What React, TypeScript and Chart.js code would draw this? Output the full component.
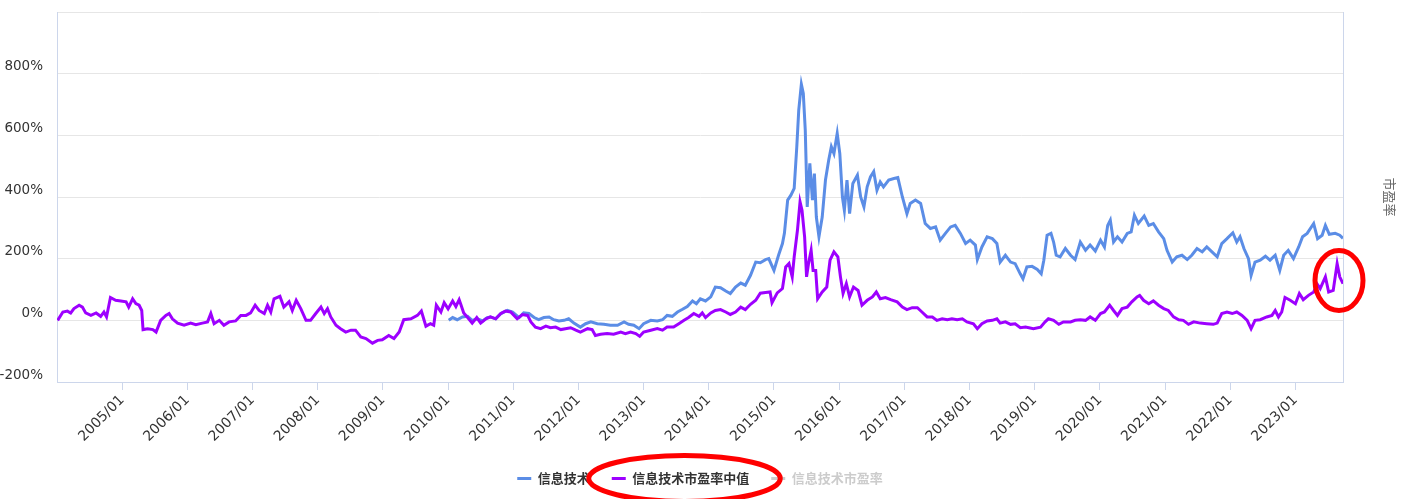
import React, { useEffect, useRef } from "react";
import { Chart, registerables } from "chart.js";

Chart.register(...registerables);

// Time axis expressed as decimal years
const tickYears = [2005, 2006, 2007, 2008, 2009, 2010, 2011, 2012, 2013, 2014, 2015, 2016, 2017, 2018, 2019, 2020, 2021, 2022, 2023];

const medianDates = [
  2004.01, 2004.09, 2004.16, 2004.21, 2004.26, 2004.34, 2004.39, 2004.44, 2004.52, 2004.60, 2004.67, 2004.72, 2004.76, 2004.82, 2004.90, 2004.98,
  2005.06, 2005.10, 2005.16, 2005.21, 2005.26, 2005.30, 2005.32, 2005.39, 2005.47, 2005.52, 2005.59, 2005.67, 2005.72, 2005.77, 2005.85, 2005.95,
  2006.05, 2006.13, 2006.23, 2006.31, 2006.36, 2006.41, 2006.49, 2006.56, 2006.64, 2006.74, 2006.82, 2006.90, 2006.97,
  2007.04, 2007.10, 2007.18, 2007.23, 2007.28, 2007.33, 2007.42, 2007.48, 2007.56, 2007.61, 2007.67, 2007.74, 2007.82, 2007.89, 2007.97,
  2008.05, 2008.10, 2008.15, 2008.20, 2008.28, 2008.35, 2008.43, 2008.51, 2008.58, 2008.66, 2008.74, 2008.84, 2008.92, 2008.99,
  2009.09, 2009.17, 2009.25, 2009.32, 2009.43, 2009.53, 2009.59, 2009.66, 2009.73, 2009.78, 2009.82, 2009.89, 2009.94,
  2010.00, 2010.07, 2010.12, 2010.17, 2010.20, 2010.24, 2010.30, 2010.37, 2010.44, 2010.50, 2010.58, 2010.65, 2010.73, 2010.81, 2010.88, 2010.96,
  2011.06, 2011.14, 2011.22, 2011.27, 2011.34, 2011.42, 2011.50, 2011.57, 2011.65, 2011.73, 2011.80, 2011.88, 2011.96,
  2012.03, 2012.14, 2012.21, 2012.26, 2012.34, 2012.44, 2012.54, 2012.65, 2012.72, 2012.80, 2012.88, 2012.94,
  2013.00, 2013.11, 2013.21, 2013.29, 2013.36, 2013.46, 2013.54, 2013.62, 2013.69, 2013.77, 2013.85, 2013.90, 2013.95,
  2014.03, 2014.10, 2014.18, 2014.26, 2014.33, 2014.41, 2014.49, 2014.56, 2014.64, 2014.72, 2014.79, 2014.87, 2014.94, 2014.97,
  2015.05, 2015.13, 2015.18, 2015.23, 2015.28, 2015.31, 2015.36, 2015.40, 2015.43, 2015.47, 2015.50, 2015.53, 2015.57, 2015.60, 2015.64, 2015.67,
  2015.74, 2015.81, 2015.86, 2015.92, 2015.98,
  2016.02, 2016.06, 2016.11, 2016.16, 2016.22, 2016.29, 2016.35, 2016.43, 2016.51, 2016.57, 2016.63, 2016.71, 2016.79, 2016.89, 2016.97,
  2017.04, 2017.12, 2017.20, 2017.27, 2017.35, 2017.43, 2017.50, 2017.58, 2017.66, 2017.73, 2017.81, 2017.89, 2017.96,
  2018.06, 2018.12, 2018.19, 2018.27, 2018.35, 2018.42, 2018.47, 2018.55, 2018.63, 2018.70, 2018.78, 2018.86, 2018.98,
  2019.09, 2019.16, 2019.21, 2019.29, 2019.37, 2019.44, 2019.55, 2019.62, 2019.70, 2019.78, 2019.85, 2019.93,
  2020.01, 2020.07, 2020.15, 2020.21, 2020.27, 2020.34, 2020.42, 2020.49, 2020.57, 2020.61, 2020.67, 2020.75, 2020.82, 2020.90, 2020.98,
  2021.05, 2021.13, 2021.21, 2021.28, 2021.36, 2021.44, 2021.54, 2021.64, 2021.74, 2021.80, 2021.87, 2021.95,
  2022.03, 2022.10, 2022.18, 2022.26, 2022.32, 2022.38, 2022.46, 2022.56, 2022.64, 2022.69, 2022.74, 2022.79, 2022.84, 2022.92,
  2023.00, 2023.06, 2023.12, 2023.20, 2023.28, 2023.33, 2023.38, 2023.46, 2023.51, 2023.58, 2023.64, 2023.68, 2023.73,
];

const medianValues = [
  0, 27, 30, 24, 38, 49, 43, 24, 16, 24, 13, 27, 11, 74, 65, 63,
  60, 43, 70, 54, 49, 32, -30, -27, -30, -38, 0, 16, 22, 5, -9, -16,
  -9, -14, -9, -5, 22, -11, 0, -16, -5, -2, 16, 16, 24,
  49, 32, 22, 49, 27, 70, 78, 43, 60, 32, 65, 38, 0, 0, 22,
  43, 22, 38, 11, -16, -27, -38, -32, -32, -54, -59, -74, -65, -63,
  -49, -59, -38, 2, 5, 16, 30, -19, -11, -16, 49, 27, 57,
  37, 63, 45, 67, 49, 24, 9, -9, 9, -9, 5, 11, 5, 22, 30, 27,
  5, 19, 16, -5, -22, -27, -19, -24, -22, -30, -27, -24, -32,
  -38, -27, -30, -49, -45, -43, -45, -38, -43, -38, -43, -52,
  -38, -32, -27, -32, -22, -22, -11, 0, 9, 22, 13, 24, 9,
  24, 32, 35, 27, 19, 27, 43, 35, 52, 65, 88, 90, 92, 57,
  89, 103, 173, 184, 141, 206, 292, 384, 357, 271, 141, 184, 227, 162, 162, 70,
  92, 108, 195, 222, 206,
  141, 87, 119, 76, 108, 97, 49, 65, 76, 92, 70, 74, 67, 60, 43,
  35, 41, 41, 27, 11, 11, 0, 5, 2, 5, 2, 5, -5,
  -11, -27, -11, -2, 0, 5, -9, -5, -13, -11, -24, -22, -27,
  -22, -5, 5, 0, -13, -5, -5, 0, 2, 0, 11, 0,
  22, 27, 49, 32, 16, 38, 43, 60, 76, 81, 65, 54, 63, 49, 38,
  32, 11, 2, 0, -13, -5, -9, -11, -13, -9, 22, 27,
  22, 27, 16, 0, -27, 0, 2, 11, 16, 32, 11, 27, 74, 65,
  54, 87, 67, 81, 92, 119, 103, 141, 92, 97, 184, 141, 119,
];

const itDates = [
  2010.01, 2010.07, 2010.14, 2010.22, 2010.30, 2010.37, 2010.45, 2010.53, 2010.60, 2010.65, 2010.73, 2010.81, 2010.91, 2010.99,
  2011.09, 2011.16, 2011.24, 2011.32, 2011.39, 2011.47, 2011.55, 2011.62, 2011.70, 2011.78, 2011.85, 2011.93,
  2012.03, 2012.11, 2012.19, 2012.29, 2012.39, 2012.49, 2012.60, 2012.70, 2012.77, 2012.85, 2012.93,
  2013.00, 2013.11, 2013.21, 2013.29, 2013.36, 2013.44, 2013.52, 2013.59, 2013.67, 2013.75, 2013.81, 2013.87, 2013.95,
  2014.03, 2014.10, 2014.18, 2014.26, 2014.33, 2014.41, 2014.49, 2014.56, 2014.64, 2014.72, 2014.79, 2014.87, 2014.92,
  2015.00, 2015.07, 2015.13, 2015.16, 2015.21, 2015.26, 2015.31, 2015.35, 2015.38, 2015.42, 2015.45, 2015.48, 2015.51, 2015.55,
  2015.59, 2015.62, 2015.65, 2015.69, 2015.74, 2015.79, 2015.84, 2015.88, 2015.92, 2015.97,
  2016.01, 2016.05, 2016.08, 2016.12, 2016.16, 2016.21, 2016.28, 2016.33, 2016.38, 2016.43, 2016.48, 2016.53, 2016.58, 2016.63,
  2016.68, 2016.76, 2016.84, 2016.90, 2016.97,
  2017.04, 2017.09, 2017.17, 2017.25, 2017.32, 2017.40, 2017.48, 2017.55, 2017.63, 2017.71, 2017.78, 2017.86, 2017.94,
  2018.01, 2018.09, 2018.12, 2018.19, 2018.27, 2018.35, 2018.42, 2018.47, 2018.55, 2018.63, 2018.70, 2018.78, 2018.82, 2018.88, 2018.96,
  2019.04, 2019.10, 2019.14, 2019.19, 2019.25, 2019.29, 2019.33, 2019.39, 2019.47, 2019.55, 2019.62, 2019.70, 2019.78, 2019.85, 2019.93,
  2020.01, 2020.07, 2020.12, 2020.16, 2020.21, 2020.27, 2020.34, 2020.42, 2020.48, 2020.53, 2020.59, 2020.68, 2020.75, 2020.82, 2020.90, 2020.98,
  2021.03, 2021.11, 2021.18, 2021.26, 2021.34, 2021.41, 2021.49, 2021.57, 2021.64, 2021.72, 2021.80, 2021.87, 2021.95,
  2022.04, 2022.10, 2022.15, 2022.21, 2022.28, 2022.32, 2022.38, 2022.46, 2022.54, 2022.61, 2022.69, 2022.76, 2022.82, 2022.89, 2022.97,
  2023.05, 2023.11, 2023.18, 2023.28, 2023.34, 2023.41, 2023.46, 2023.52, 2023.61, 2023.68, 2023.73,
];

const itValues = [
  0, 9, 2, 11, 13, 0, 5, -2, 9, 11, 5, 22, 32, 27,
  9, 24, 22, 9, 2, 9, 11, 2, -2, 0, 5, -9,
  -22, -11, -5, -11, -13, -16, -16, -5, -13, -16, -27,
  -11, 0, -2, 2, 16, 13, 27, 35, 45, 63, 54, 70, 63,
  76, 108, 106, 95, 87, 108, 121, 114, 146, 189, 187, 197, 200,
  162, 211, 249, 282, 390, 406, 428, 563, 682, 766, 736, 617, 368, 509,
  390, 476, 335, 271, 335, 455, 520, 563, 541, 606,
  541, 400, 357, 455, 346, 444, 471, 400, 368, 433, 465, 482, 422, 449,
  433, 455, 460, 463, 400,
  346, 379, 390, 379, 314, 298, 303, 260, 282, 303, 308, 282, 249,
  260, 244, 197, 238, 271, 265, 249, 189, 211, 189, 184, 150, 135, 173, 175,
  165, 151, 195, 276, 282, 254, 211, 206, 233, 211, 197, 254, 227, 244, 225,
  260, 238, 308, 325, 254, 271, 254, 282, 287, 341, 314, 338, 308, 314, 287, 265,
  227, 189, 206, 211, 197, 211, 233, 222, 238, 222, 206, 249, 265,
  284, 254, 271, 233, 200, 146, 189, 195, 208, 195, 211, 162, 211, 227, 200,
  238, 271, 282, 314, 265, 276, 308, 279, 282, 276, 266,
];

const seriesNames = ["信息技术", "信息技术市盈率中值", "信息技术市盈率"];
const yTicks = [-200, 0, 200, 400, 600, 800, 1000];

const AXIS_FONT = "'DejaVu Sans', 'Noto Sans CJK SC', sans-serif";
const CJK_FONT = "'Noto Sans CJK SC', 'Noto Sans', sans-serif";

const annotatePlugin = {
  id: "annotate",
  afterDraw(chart: any) {
    const ctx = chart.ctx;
    ctx.save();
    ctx.strokeStyle = "#ff0000";
    ctx.lineWidth = 5;
    const boxes = chart.legend && chart.legend.legendHitBoxes;
    if (boxes && boxes[1]) {
      const hb = boxes[1];
      ctx.beginPath();
      ctx.ellipse(hb.left + hb.width / 2 + 4, hb.top + hb.height / 2, hb.width / 2 + 27, 23, 0, 0, Math.PI * 2);
      ctx.stroke();
    }
    const xs = chart.scales.x;
    const ys = chart.scales.y;
    const n = medianValues.length;
    const tail = medianValues.slice(n - 6);
    const avg = tail.reduce((a, b) => a + b, 0) / tail.length;
    const cx = xs.getPixelForValue(medianDates[n - 1]) - 4;
    const cy = ys.getPixelForValue(avg);
    ctx.beginPath();
    ctx.ellipse(cx, cy, 24, 30, 0, 0, Math.PI * 2);
    ctx.stroke();
    ctx.restore();
  },
};

export default function App() {
  const canvasRef = useRef<HTMLCanvasElement | null>(null);

  useEffect(() => {
    if (!canvasRef.current) return;
    const chart = new Chart(canvasRef.current, {
      type: "line",
      data: {
        datasets: [
          {
            label: seriesNames[0],
            data: itDates.map((d, i) => ({ x: d, y: itValues[i] })),
            borderColor: "#5b8de6",
            backgroundColor: "#5b8de6",
            borderWidth: 3,
            pointRadius: 0,
            tension: 0,
            order: 1,
            yAxisID: "y",
          },
          {
            label: seriesNames[1],
            data: medianDates.map((d, i) => ({ x: d, y: medianValues[i] })),
            borderColor: "#9d00ff",
            backgroundColor: "#9d00ff",
            borderWidth: 3,
            pointRadius: 0,
            tension: 0,
            order: 0,
            yAxisID: "y",
          },
          {
            label: seriesNames[2],
            data: [],
            borderColor: "#ccc",
            backgroundColor: "#ccc",
            borderWidth: 3,
            pointRadius: 0,
            hidden: true,
            yAxisID: "y1",
          },
        ],
      },
      options: {
        animation: false,
        responsive: true,
        maintainAspectRatio: false,
        layout: { padding: { top: 12, left: 0, right: 14, bottom: 4 } },
        plugins: {
          tooltip: { enabled: false },
          legend: {
            position: "bottom",
            labels: {
              boxWidth: 14,
              boxHeight: 3,
              padding: 22,
              font: { family: CJK_FONT, size: 13, weight: "bold" },
              generateLabels: (ch: any) =>
                ch.data.datasets.map((ds: any, i: number) => {
                  const hidden = !ch.isDatasetVisible(i);
                  return {
                    text: ds.label,
                    fillStyle: hidden ? "#cccccc" : ds.borderColor,
                    strokeStyle: hidden ? "#cccccc" : ds.borderColor,
                    lineWidth: 0,
                    hidden: false,
                    fontColor: hidden ? "#cccccc" : "#333333",
                    datasetIndex: i,
                  };
                }),
            },
          },
        },
        scales: {
          x: {
            type: "linear",
            min: 2004,
            max: 2023.73,
            afterBuildTicks: (scale: any) => {
              scale.ticks = tickYears.map((v) => ({ value: v }));
            },
            afterFit: (scale: any) => {
              scale.height = 68;
            },
            ticks: {
              autoSkip: false,
              minRotation: 45,
              maxRotation: 45,
              padding: 2,
              color: "#333",
              font: { family: AXIS_FONT, size: 14 },
              callback: (v: any) => `${Math.round(Number(v))}/01`,
            },
            grid: {
              drawOnChartArea: false,
              drawTicks: true,
              tickLength: 8,
              tickColor: "#ccd6eb",
            },
            border: { display: true, color: "#ccd6eb", width: 1 },
          },
          y: {
            type: "linear",
            position: "left",
            min: -200,
            max: 1000,
            afterBuildTicks: (scale: any) => {
              scale.ticks = yTicks.map((v) => ({ value: v }));
            },
            afterFit: (scale: any) => {
              scale.width = 57;
              scale.paddingTop = 0;
              scale.paddingBottom = 0;
            },
            ticks: {
              padding: 14,
              labelOffset: -7,
              color: "#333",
              font: { family: AXIS_FONT, size: 13.5 },
              callback: (v: any) => (Number(v) === 1000 ? "" : `${v}%`),
            },
            grid: { color: "#e6e6e6", drawTicks: false },
            border: { display: true, color: "#ccd6eb", width: 1 },
          },
          y1: {
            type: "linear",
            position: "right",
            display: true,
            afterFit: (scale: any) => {
              scale.width = 57;
              scale.paddingTop = 0;
              scale.paddingBottom = 0;
            },
            ticks: { display: false },
            grid: { display: false, drawTicks: false },
            border: { display: true, color: "#ccd6eb", width: 1 },
            title: {
              display: true,
              text: "市盈率",
              color: "#666",
              font: { family: CJK_FONT, size: 13 },
              padding: { top: 2, bottom: 0 },
            },
          },
        },
      },
      plugins: [annotatePlugin],
    });
    return () => chart.destroy();
  }, []);

  return (
    <div style={{ position: "absolute", left: 0, top: 0, width: "1414px", height: "499px" }}>
      <canvas ref={canvasRef} />
    </div>
  );
}
